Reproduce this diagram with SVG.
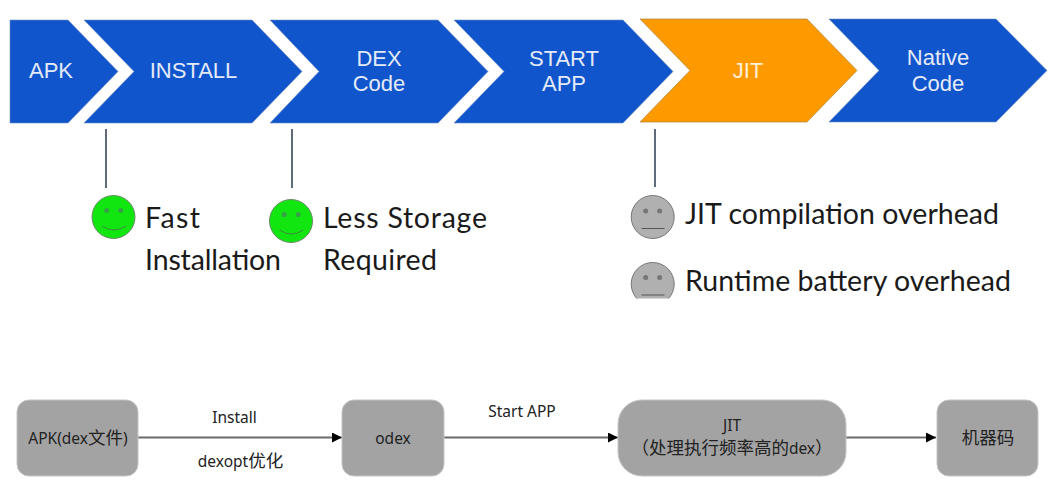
<svg xmlns="http://www.w3.org/2000/svg" width="1063" height="489" viewBox="0 0 1063 489">
<style>
.ch{fill:#1155cc;stroke:#6f8fc0;stroke-width:.6}
.cl{font:22px "Liberation Sans",Arial,sans-serif;fill:#e3eaf8;text-anchor:middle}
.t{font:28.500px Lato,"Open Sans",sans-serif;fill:#1a1a1a}
.st{stroke:#5f6b7d;stroke-width:2;fill:none}
.good{fill:#11e611;stroke:#6a8a6a;stroke-width:1}
.neu{fill:#b0b0b0;stroke:#777;stroke-width:1}
.eye{fill:#777;stroke:none}
.eg{fill:#35a045;stroke:none}
.m{fill:none;stroke:#555;stroke-width:1}
.mg{fill:none;stroke:#3c8a3c;stroke-width:1}
.n{fill:#a3a3a3;stroke:#c4c4c4;stroke-width:1}
.b{font:15.500px "Noto Sans","Noto Sans CJK SC",sans-serif;fill:#222;text-anchor:middle}
.z{font-size:17.500px}
.c{stroke:#6b6b6b;stroke-width:2;fill:none;marker-end:url(#a)}
</style>
<defs>
<marker id="a" markerUnits="userSpaceOnUse" markerWidth="10" markerHeight="10" refX="10" refY="5" orient="auto"><path d="M0 0L10 5L0 10Z" fill="#000"/></marker>
<clipPath id="cut"><rect x="620" y="255" width="60" height="43.500"/></clipPath>
</defs>
<g id="chevrons">
<g id="step-apk"><path class="ch" d="M10 20H68L118 71.500L68 123H10Z"/><text class="cl" x="51" y="78">APK</text></g>
<g id="step-install"><path class="ch" d="M84 20H252L302 71.500L252 123H84L134 71.500Z"/><text class="cl" x="193.500" y="78">INSTALL</text></g>
<g id="step-dex"><path class="ch" d="M270 20H438L488 71.500L438 123H270L319 71.500Z"/><text class="cl" x="379" y="66">DEX</text><text class="cl" x="379" y="91">Code</text></g>
<g id="step-start"><path class="ch" d="M454 20H623L673 71.500L623 123H454L504 71.500Z"/><text class="cl" x="564" y="66">START</text><text class="cl" x="564" y="91">APP</text></g>
<g id="step-jit"><path fill="#ff9900" stroke="#a8863c" stroke-width=".7" d="M640 19H807L857 70.500L807 122H640L690 70.500Z"/><text class="cl" x="748" y="78" style="fill:#fdf0d8">JIT</text></g>
<g id="step-native"><path class="ch" d="M829 19H996L1047 70.500L996 122H829L879 70.500Z"/><text class="cl" x="938" y="65">Native</text><text class="cl" x="938" y="91">Code</text></g>
</g>
<g id="connectors">
<path class="st" d="M106 129V188M292 129V188M655 129V187"/>
<path class="c" d="M138 437.500H342"/>
<path class="c" d="M444 437.500H618"/>
<path class="c" d="M846 437.500H936"/>
</g>
<g id="smiley-fast"><circle class="good" cx="113.500" cy="217" r="21.500"/><circle class="eg" cx="106.700" cy="210.500" r="2.500"/><circle class="eg" cx="120.700" cy="210.500" r="2.500"/><path class="mg" d="M102 226Q113.500 234 126 226"/><text class="t" x="145" y="228" textLength="55">Fast</text><text class="t" x="145" y="270" textLength="136">Installation</text></g>
<g id="smiley-storage"><circle class="good" cx="291" cy="221" r="21.500"/><circle class="eg" cx="284.200" cy="214.500" r="2.500"/><circle class="eg" cx="298.200" cy="214.500" r="2.500"/><path class="mg" d="M279.500 230Q291 238 303.500 230"/><text class="t" x="323" y="228" textLength="164">Less Storage</text><text class="t" x="323" y="270" textLength="114">Required</text></g>
<g id="neutral-jit"><circle class="neu" cx="652.700" cy="217" r="21.500"/><circle class="eye" cx="645.700" cy="211" r="2.500"/><circle class="eye" cx="659.700" cy="211" r="2.500"/><path class="m" d="M641.500 228.500H664.500"/><text class="t" x="685" y="224" textLength="314">JIT compilation overhead</text></g>
<g id="neutral-battery"><g clip-path="url(#cut)"><circle class="neu" cx="652.700" cy="284" r="21.500"/><circle class="eye" cx="645.700" cy="277.500" r="2.500"/><circle class="eye" cx="659.700" cy="277.500" r="2.500"/><path class="m" d="M641.500 295H664.500"/></g><text class="t" x="685" y="291" textLength="326">Runtime battery overhead</text></g>
<g id="node-apk"><rect class="n" x="17" y="400" width="121" height="76" rx="12"/><text class="b" x="78" y="444">APK(dex<tspan class="z">文件</tspan>)</text></g>
<g id="node-odex"><rect class="n" x="342" y="400" width="102" height="76" rx="12"/><text class="b" x="393" y="444">odex</text></g>
<g id="node-jit"><rect class="n" x="618" y="400" width="228" height="76" rx="24"/><text class="b" x="732" y="431">JIT</text><text class="b" x="732" y="454"><tspan class="z">（处理执行频率高的</tspan>dex<tspan class="z">）</tspan></text></g>
<g id="node-machine"><rect class="n" x="937" y="400" width="101" height="76" rx="12"/><text class="b z" x="988" y="444">机器码</text></g>
<g id="edge-labels"><text class="b" x="234.500" y="423">Install</text><text class="b" x="240.500" y="467">dexopt<tspan class="z">优化</tspan></text><text class="b" x="522" y="417">Start APP</text></g>
</svg>
